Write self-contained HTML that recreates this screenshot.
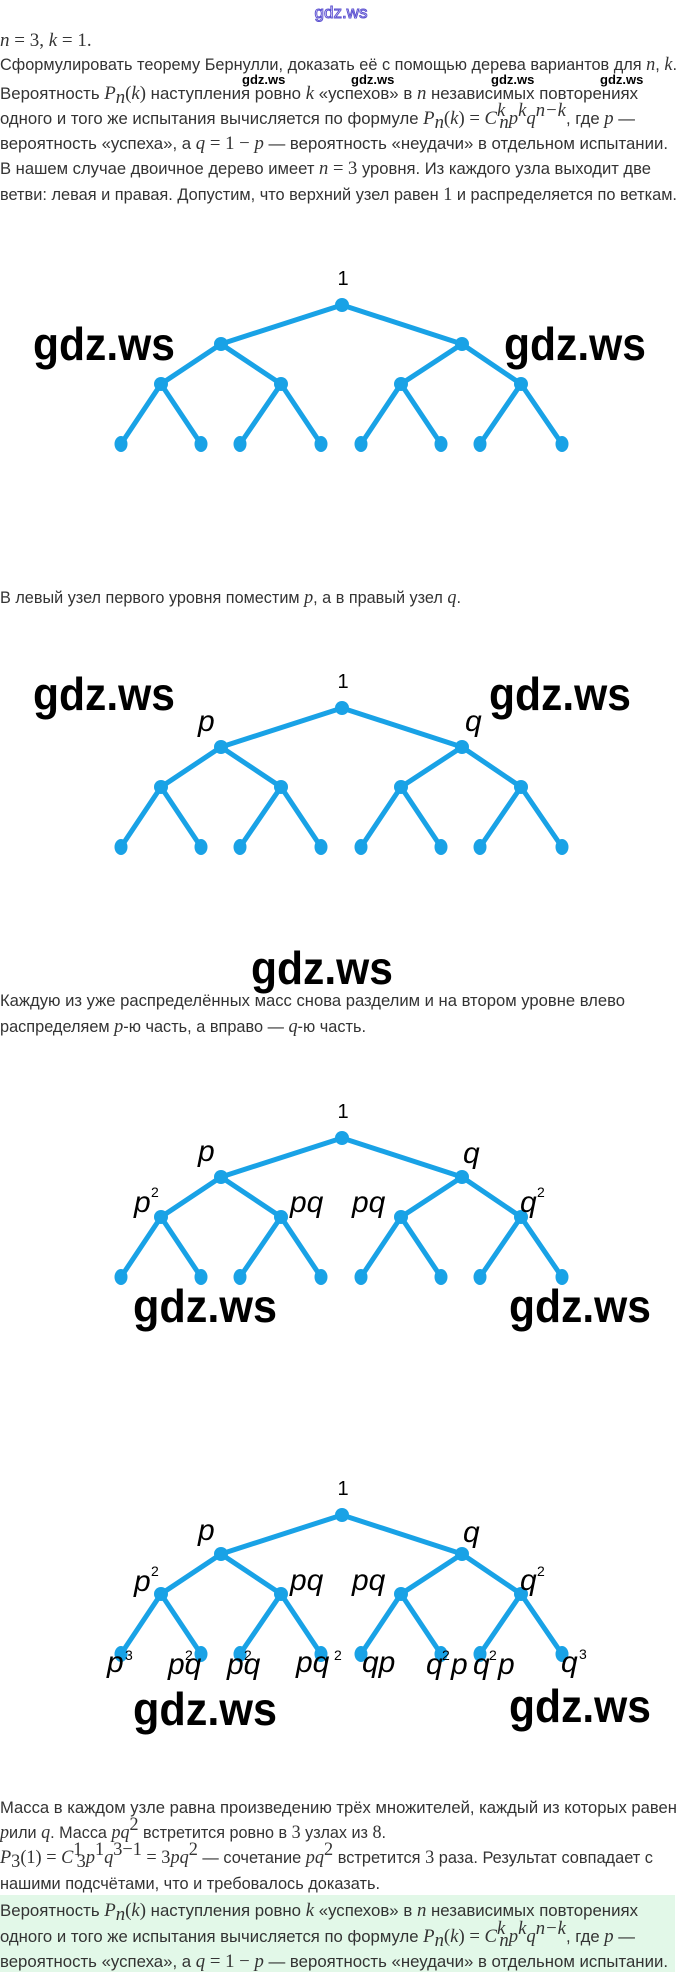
<!DOCTYPE html>
<html><head><meta charset="utf-8"><style>
html,body{margin:0;padding:0;background:#fff;}
svg{display:block;}
.t{font-family:"Liberation Sans",sans-serif;font-size:17px;fill:#333;}
.m{font-family:"Liberation Serif",serif;font-style:italic;font-size:19px;}
.r{font-family:"Liberation Serif",serif;font-size:19px;}
.wm{font-family:"Liberation Sans",sans-serif;font-size:46px;fill:#000;font-weight:bold;}
.sw{font-family:"Liberation Sans",sans-serif;font-size:13px;fill:#000;font-weight:bold;}
.lb{font-family:"Liberation Sans",sans-serif;font-style:italic;font-size:30px;fill:#000;}
.sup{font-family:"Liberation Sans",sans-serif;font-size:14px;fill:#000;}
.one{font-family:"Liberation Sans",sans-serif;font-size:20px;fill:#000;}
</style></head><body>
<svg width="680" height="1972" viewBox="0 0 680 1972" xmlns="http://www.w3.org/2000/svg">
<defs>
<g id="tree">
<g stroke="#19a2e6" stroke-width="5" stroke-linecap="round" fill="none">
<polyline points="221,39 342,0 462,39"/>
<polyline points="161,79 221,39 281,79"/>
<polyline points="401,79 462,39 521,79"/>
<polyline points="121,139 161,79 201,139"/>
<polyline points="240,139 281,79 321,139"/>
<polyline points="361,139 401,79 441,139"/>
<polyline points="480,139 521,79 562,139"/>
</g>
<g fill="#19a2e6">
<circle cx="342" cy="0" r="7"/><circle cx="221" cy="39" r="7"/><circle cx="462" cy="39" r="7"/>
<circle cx="161" cy="79" r="7"/><circle cx="281" cy="79" r="7"/><circle cx="401" cy="79" r="7"/><circle cx="521" cy="79" r="7"/>
<ellipse cx="121" cy="139" rx="6.5" ry="8"/><ellipse cx="201" cy="139" rx="6.5" ry="8"/><ellipse cx="240" cy="139" rx="6.5" ry="8"/><ellipse cx="321" cy="139" rx="6.5" ry="8"/>
<ellipse cx="361" cy="139" rx="6.5" ry="8"/><ellipse cx="441" cy="139" rx="6.5" ry="8"/><ellipse cx="480" cy="139" rx="6.5" ry="8"/><ellipse cx="562" cy="139" rx="6.5" ry="8"/>
</g>
<text class="one" x="343" y="-20" text-anchor="middle">1</text>
</g>
</defs>

<text x="341" y="18" text-anchor="middle" font-family="Liberation Sans,sans-serif" font-size="17" fill="#fff" stroke="#5a4fd0" stroke-width="1">gdz.ws</text>

<text class="t" x="0" y="46"><tspan class="m">n</tspan><tspan class="r"> = 3, </tspan><tspan class="m">k</tspan><tspan class="r"> = 1.</tspan></text>
<text class="t" x="0" y="70" textLength="677" lengthAdjust="spacingAndGlyphs">Сформулировать теорему Бернулли, доказать её с помощью дерева вариантов для <tspan class="m">n</tspan>, <tspan class="m">k</tspan>.</text>
<text class="sw" x="242" y="84">gdz.ws</text><text class="sw" x="351" y="84">gdz.ws</text><text class="sw" x="491" y="84">gdz.ws</text><text class="sw" x="600" y="84">gdz.ws</text>
<text class="t" x="0" y="99" textLength="638" lengthAdjust="spacingAndGlyphs">Вероятность <tspan class="m">P</tspan><tspan class="m" font-size="13" dy="4">n</tspan><tspan class="r" dy="-4">(</tspan><tspan class="m">k</tspan><tspan class="r">)</tspan> наступления ровно <tspan class="m">k</tspan> «успехов» в <tspan class="m">n</tspan> независимых повторениях</text>
<text class="t" x="0" y="124" textLength="635" lengthAdjust="spacingAndGlyphs">одного и того же испытания вычисляется по формуле <tspan class="m">P</tspan><tspan class="m" font-size="13" dy="4">n</tspan><tspan class="r" dy="-4">(</tspan><tspan class="m">k</tspan><tspan class="r">) = </tspan><tspan class="m">C</tspan><tspan class="m" font-size="12" dy="-8">k</tspan><tspan class="m" font-size="12" dx="-6" dy="12">n</tspan><tspan class="m" dy="-4">p</tspan><tspan class="m" font-size="12" dy="-8">k</tspan><tspan class="m" dy="8">q</tspan><tspan class="m" font-size="12" dy="-8">n−k</tspan><tspan dy="8">, где </tspan><tspan class="m">p</tspan> —</text>
<text class="t" x="0" y="149" textLength="668" lengthAdjust="spacingAndGlyphs">вероятность «успеха», а <tspan class="m">q</tspan><tspan class="r"> = 1 − </tspan><tspan class="m">p</tspan> — вероятность «неудачи» в отдельном испытании.</text>
<text class="t" x="0" y="174" textLength="651" lengthAdjust="spacingAndGlyphs">В нашем случае двоичное дерево имеет <tspan class="m">n</tspan><tspan class="r"> = 3</tspan> уровня. Из каждого узла выходит две</text>
<text class="t" x="0" y="200" textLength="677" lengthAdjust="spacingAndGlyphs">ветви: левая и правая. Допустим, что верхний узел равен <tspan class="r">1</tspan> и распределяется по веткам.</text>

<!-- Tree 1 -->
<use href="#tree" x="0" y="305"/>
<text class="wm" x="33" y="360" textLength="142" lengthAdjust="spacingAndGlyphs">gdz.ws</text>
<text class="wm" x="504" y="360" textLength="142" lengthAdjust="spacingAndGlyphs">gdz.ws</text>

<text class="t" x="0" y="603" textLength="461" lengthAdjust="spacingAndGlyphs">В левый узел первого уровня поместим <tspan class="m">p</tspan>, а в правый узел <tspan class="m">q</tspan>.</text>

<!-- Tree 2 -->
<use href="#tree" x="0" y="708"/>
<text class="lb" x="198" y="731">p</text>
<text class="lb" x="465" y="731">q</text>
<text class="wm" x="33" y="710" textLength="142" lengthAdjust="spacingAndGlyphs">gdz.ws</text>
<text class="wm" x="489" y="710" textLength="142" lengthAdjust="spacingAndGlyphs">gdz.ws</text>
<text class="wm" x="251" y="984" textLength="142" lengthAdjust="spacingAndGlyphs">gdz.ws</text>

<text class="t" x="0" y="1006" textLength="625" lengthAdjust="spacingAndGlyphs">Каждую из уже распределённых масс снова разделим и на втором уровне влево</text>
<text class="t" x="0" y="1032" textLength="366" lengthAdjust="spacingAndGlyphs">распределяем <tspan class="m">p</tspan>-ю часть, а вправо — <tspan class="m">q</tspan>-ю часть.</text>

<!-- Tree 3 -->
<use href="#tree" x="0" y="1138"/>
<g>
<text class="lb" x="198" y="1161">p</text>
<text class="lb" x="463" y="1163">q</text>
<text class="lb" x="134" y="1212">p</text><text class="sup" x="151" y="1197">2</text>
<text class="lb" x="290" y="1212">pq</text>
<text class="lb" x="352" y="1212">pq</text>
<text class="lb" x="520" y="1212">q</text><text class="sup" x="537" y="1197">2</text>
</g>
<text class="wm" x="133" y="1322" textLength="144" lengthAdjust="spacingAndGlyphs">gdz.ws</text>
<text class="wm" x="509" y="1322" textLength="142" lengthAdjust="spacingAndGlyphs">gdz.ws</text>

<!-- Tree 4 -->
<use href="#tree" x="0" y="1515"/>
<g>
<text class="lb" x="198" y="1540">p</text>
<text class="lb" x="463" y="1542">q</text>
<text class="lb" x="134" y="1591">p</text><text class="sup" x="151" y="1576">2</text>
<text class="lb" x="290" y="1590">pq</text>
<text class="lb" x="352" y="1590">pq</text>
<text class="lb" x="520" y="1590">q</text><text class="sup" x="537" y="1576">2</text>
<text class="lb" x="107" y="1672">p</text><text class="sup" x="125" y="1660" font-size="16">3</text>
<text class="lb" x="168" y="1674">pq</text><text class="sup" x="185" y="1660" font-size="16">2</text>
<text class="lb" x="227" y="1674">pq</text><text class="sup" x="244" y="1660" font-size="16">2</text>
<text class="lb" x="296" y="1672">pq</text><text class="sup" x="334" y="1660" font-size="16">2</text>
<text class="lb" x="362" y="1672">qp</text>
<text class="lb" x="426" y="1674">q</text><text class="sup" x="442" y="1660" font-size="16">2</text><text class="lb" x="451" y="1674">p</text>
<text class="lb" x="473" y="1674">q</text><text class="sup" x="489" y="1660" font-size="16">2</text><text class="lb" x="498" y="1674">p</text>
<text class="lb" x="561" y="1672">q</text><text class="sup" x="579" y="1659" font-size="18">3</text>
</g>
<text class="wm" x="133" y="1725" textLength="144" lengthAdjust="spacingAndGlyphs">gdz.ws</text>
<text class="wm" x="509" y="1722" textLength="142" lengthAdjust="spacingAndGlyphs">gdz.ws</text>

<text class="t" x="0" y="1813" textLength="677" lengthAdjust="spacingAndGlyphs">Масса в каждом узле равна произведению трёх множителей, каждый из которых равен</text>
<text class="t" x="0" y="1838" textLength="386" lengthAdjust="spacingAndGlyphs"><tspan class="m">p</tspan>или <tspan class="m">q</tspan>. Масса <tspan class="m">pq</tspan><tspan class="r" font-size="12" dy="-8">2</tspan><tspan dy="8"> встретится ровно в </tspan><tspan class="r">3</tspan> узлах из <tspan class="r">8</tspan>.</text>
<text class="t" x="0" y="1863" textLength="653" lengthAdjust="spacingAndGlyphs"><tspan class="m">P</tspan><tspan class="r" font-size="12" dy="4">3</tspan><tspan class="r" dy="-4">(1) = </tspan><tspan class="m">C</tspan><tspan class="r" font-size="12" dy="-8">1</tspan><tspan class="r" font-size="12" dx="-6" dy="12">3</tspan><tspan class="m" dy="-4">p</tspan><tspan class="r" font-size="12" dy="-8">1</tspan><tspan class="m" dy="8">q</tspan><tspan class="r" font-size="12" dy="-8">3−1</tspan><tspan class="r" dy="8"> = 3</tspan><tspan class="m">pq</tspan><tspan class="r" font-size="12" dy="-8">2</tspan><tspan dy="8"> — сочетание </tspan><tspan class="m">pq</tspan><tspan class="r" font-size="12" dy="-8">2</tspan><tspan dy="8"> встретится </tspan><tspan class="r">3</tspan> раза. Результат совпадает с</text>
<text class="t" x="0" y="1889" textLength="380" lengthAdjust="spacingAndGlyphs">нашими подсчётами, что и требовалось доказать.</text>

<rect x="0" y="1895" width="675" height="77" fill="#e2f8e8"/>
<text class="t" x="0" y="1916" textLength="638" lengthAdjust="spacingAndGlyphs">Вероятность <tspan class="m">P</tspan><tspan class="m" font-size="13" dy="4">n</tspan><tspan class="r" dy="-4">(</tspan><tspan class="m">k</tspan><tspan class="r">)</tspan> наступления ровно <tspan class="m">k</tspan> «успехов» в <tspan class="m">n</tspan> независимых повторениях</text>
<text class="t" x="0" y="1942" textLength="635" lengthAdjust="spacingAndGlyphs">одного и того же испытания вычисляется по формуле <tspan class="m">P</tspan><tspan class="m" font-size="13" dy="4">n</tspan><tspan class="r" dy="-4">(</tspan><tspan class="m">k</tspan><tspan class="r">) = </tspan><tspan class="m">C</tspan><tspan class="m" font-size="12" dy="-8">k</tspan><tspan class="m" font-size="12" dx="-6" dy="12">n</tspan><tspan class="m" dy="-4">p</tspan><tspan class="m" font-size="12" dy="-8">k</tspan><tspan class="m" dy="8">q</tspan><tspan class="m" font-size="12" dy="-8">n−k</tspan><tspan dy="8">, где </tspan><tspan class="m">p</tspan> —</text>
<text class="t" x="0" y="1967" textLength="668" lengthAdjust="spacingAndGlyphs">вероятность «успеха», а <tspan class="m">q</tspan><tspan class="r"> = 1 − </tspan><tspan class="m">p</tspan> — вероятность «неудачи» в отдельном испытании.</text>
</svg>
</body></html>
